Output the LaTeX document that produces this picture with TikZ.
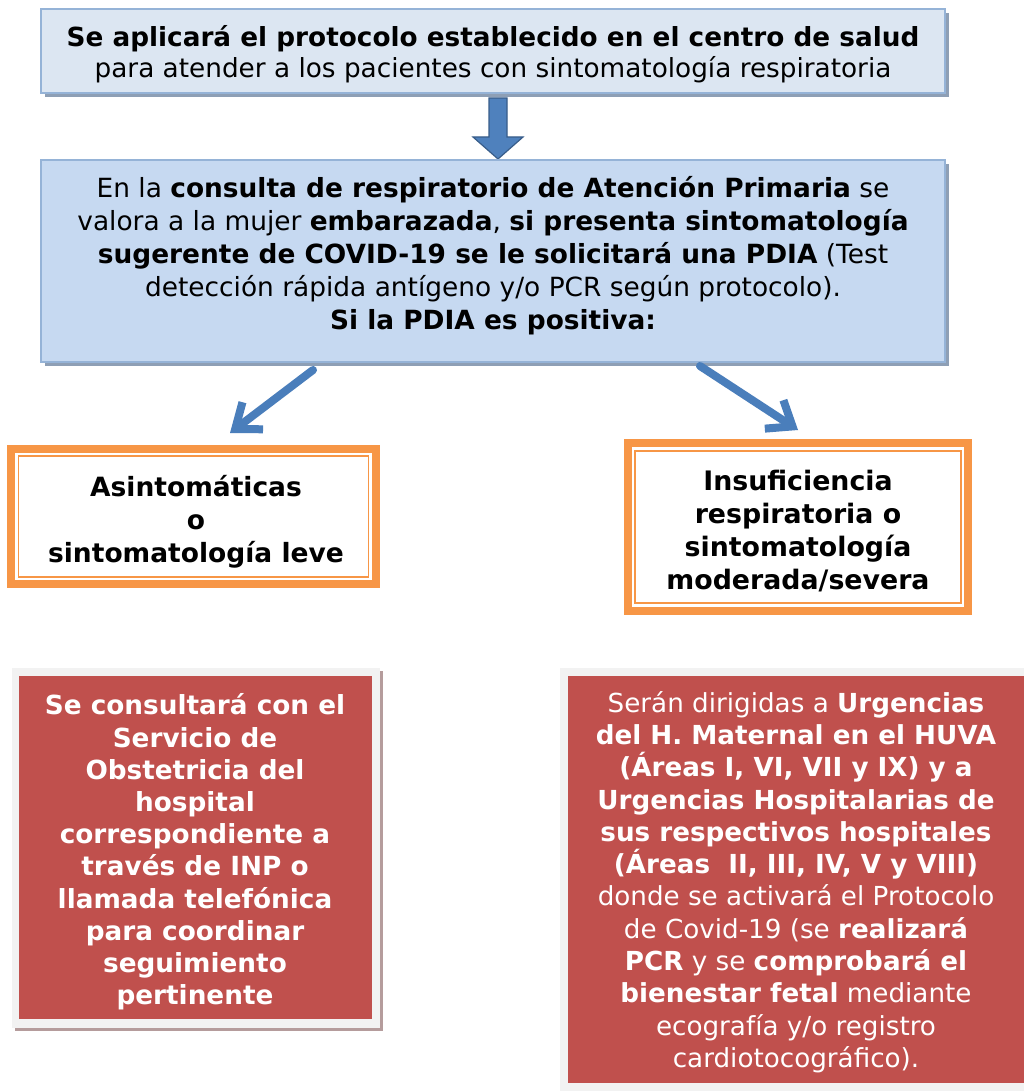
\documentclass[tikz,border=0pt]{standalone}
\usepackage{fontspec}
\setmainfont{DejaVu Sans}
\usetikzlibrary{arrows.meta}
\definecolor{boxblueA}{HTML}{DCE6F2}
\definecolor{boxblueB}{HTML}{C6D9F1}
\definecolor{boxedge}{HTML}{95B3D7}
\definecolor{boxshadow}{HTML}{8E9FB5}
\definecolor{arrblue}{HTML}{4A7EBB}
\definecolor{arrfill}{HTML}{4F81BD}
\definecolor{arredge}{HTML}{385D8A}
\definecolor{orangeb}{HTML}{F79646}
\definecolor{redbox}{HTML}{C0504D}
\definecolor{greyframe}{HTML}{F2F2F2}
\definecolor{redshadow}{HTML}{B59C9C}
\tikzset{
  bluebox/.style={draw=boxedge, line width=1.5pt, inner sep=0pt},
  orangeouter/.style={draw=orangeb, line width=8pt, fill=white, inner sep=0pt},
  orangeinner/.style={draw=orangeb, line width=1.5pt, inner sep=0pt},
  redframe/.style={fill=greyframe, inner sep=0pt},
  redfill/.style={fill=redbox, inner sep=0pt},
  txt/.style={align=center, inner sep=0pt},
  bluearrow/.style={draw=arrblue, line width=8pt, line cap=round, -{Straight Barb[length=22pt,width=34pt]}},
}
\begin{document}
\begin{tikzpicture}[x=1pt,y=-1pt]
\clip (0,0) rectangle (1024,1091);
\fill[white] (0,0) rectangle (1024,1091);
% top box
\fill[boxshadow] (45,13) rectangle (949,97);
\node[bluebox, fill=boxblueA, minimum width=904, minimum height=84] (b1) at (493,51) {};
\node[txt, font=\fontsize{26.3}{31}\selectfont] (t1) at (493,54)
  {\textbf{Se aplicará el protocolo establecido en el centro de salud}\\para atender a los pacientes con sintomatología respiratoria};
% block arrow
\coordinate (aS) at (498,98);
\filldraw[fill=arrfill, draw=arredge, line width=1.2pt]
  (489,98) -- (507,98) -- (507,137) -- (523,137) -- (498,159) -- (473,137) -- (489,137) -- cycle;
% second box
\fill[boxshadow] (45,164) rectangle (949,366);
\node[bluebox, fill=boxblueB, minimum width=904, minimum height=202] (b2) at (493,261) {};
\node[txt, font=\fontsize{26.4}{33}\selectfont] (t2) at (493,256)
  {En la \textbf{consulta de respiratorio de Atención Primaria} se\\
   valora a la mujer \textbf{embarazada}, \textbf{si presenta sintomatología}\\
   \textbf{sugerente de COVID-19 se le solicitará una PDIA} (Test\\
   detección rápida antígeno y/o PCR según protocolo).\\
   \textbf{Si la PDIA es positiva:}};
% orange boxes
\node[orangeouter, minimum width=365, minimum height=135] (o1) at (193.5,516.5) {};
\node[orangeinner, minimum width=350, minimum height=121] (o1i) at (193.5,516.5) {};
\node[txt, font=\fontsize{26.5}{33}\selectfont\bfseries] (to1) at (196,522)
  {Asintomáticas\\o\\sintomatología leve};
\node[orangeouter, minimum width=340, minimum height=168] (o2) at (798,527) {};
\node[orangeinner, minimum width=326, minimum height=152] (o2i) at (798,527) {};
\node[txt, font=\fontsize{26.8}{33}\selectfont\bfseries] (to2) at (798,531)
  {Insuficiencia\\respiratoria o\\sintomatología\\moderada/severa};
% diagonal arrows
\coordinate (l0) at (313,370);
\coordinate (l1) at (230,433);
\coordinate (r0) at (700,366);
\coordinate (r1) at (798,430);
\draw[bluearrow] (l0) -- (l1);
\draw[bluearrow] (r0) -- (r1);
% red boxes
\fill[redshadow] (15,671) rectangle (383,1031);
\node[redframe, minimum width=368, minimum height=360, anchor=north west] (f1) at (12,668) {};
\node[redfill, minimum width=353, minimum height=343, anchor=north west] (r1b) at (19,676) {};
\node[txt, font=\fontsize{26.3}{32.2}\selectfont\bfseries, text=white] (tr1) at (195,852)
  {Se consultará con el\\Servicio de\\Obstetricia del\\hospital\\correspondiente a\\través de INP o\\llamada telefónica\\para coordinar\\seguimiento\\pertinente};
\node[redframe, minimum width=480, minimum height=440, anchor=north west] (f2) at (560,668) {};
\node[redfill, minimum width=470, minimum height=407, anchor=north west] (r2b) at (568,676) {};
\node[txt, font=\fontsize{26.2}{32.3}\selectfont, text=white] (tr2) at (796,882)
  {Serán dirigidas a \textbf{Urgencias}\\
   \textbf{del H. Maternal en el HUVA}\\
   \textbf{(Áreas I, VI, VII y IX) y a}\\
   \textbf{Urgencias Hospitalarias de}\\
   \textbf{sus respectivos hospitales}\\
   \textbf{(Áreas\ \ II, III, IV, V y VIII)}\\
   donde se activará el Protocolo\\
   de Covid-19 (se \textbf{realizará}\\
   \textbf{PCR} y se \textbf{comprobará el}\\
   \textbf{bienestar fetal} mediante\\
   ecografía y/o registro\\
   cardiotocográfico).};
\end{tikzpicture}
\end{document}
